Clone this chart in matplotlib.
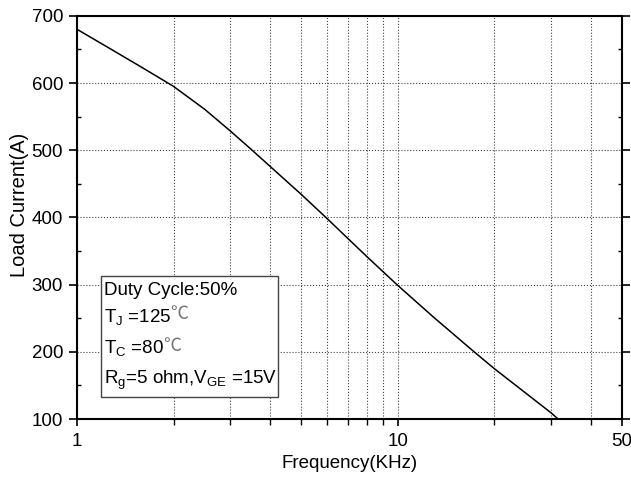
import matplotlib.pyplot as plt
from matplotlib.patches import Rectangle
from matplotlib.ticker import FixedLocator, NullFormatter

plt.rcParams['font.family'] = ['Liberation Sans', 'DejaVu Sans']
plt.rcParams['mathtext.fontset'] = 'custom'
plt.rcParams['mathtext.rm'] = 'Liberation Sans'
plt.rcParams['mathtext.default'] = 'regular'

# curve
freq_khz = [1, 1.27, 1.61, 2, 2.5, 3, 3.46, 5.01, 5.97, 8, 9.94, 12.9, 17.3, 20, 30.1, 31.6]
load_current = [680, 651, 622, 595, 561, 529, 503, 434, 400, 342, 300, 252, 200, 175, 109, 100]

x_major = [1, 10, 50]
x_major_labels = ["1", "10", "50"]
x_minor = [2, 3, 4, 5, 6, 7, 8, 9, 20, 30, 40]
y_major = [100, 200, 300, 400, 500, 600, 700]
y_minor = [150, 250, 350, 450, 550, 650]

box_lines = ["Duty Cycle:50%", "T$_J$ =125", "T$_C$ =80", "R$_g$=5 ohm,V$_{GE}$ =15V"]
box_units = ["", "℃", "℃", ""]

fig = plt.figure(figsize=(6.31, 4.80), dpi=100)
ax = fig.add_axes([0.122, 0.127, 0.8637, 0.840])

ax.plot(freq_khz, load_current, color="black", lw=1.1)

ax.set_xscale("log")
ax.set_xlim(1, 50)
ax.set_ylim(100, 700)
ax.xaxis.set_major_locator(FixedLocator(x_major))
ax.xaxis.set_minor_locator(FixedLocator(x_minor))
ax.set_xticklabels(x_major_labels)
ax.xaxis.set_minor_formatter(NullFormatter())
ax.set_yticks(y_major)
ax.yaxis.set_minor_locator(FixedLocator(y_minor))

ax.grid(True, which="major", axis="y", color="#444444", ls=":", lw=0.8)
ax.grid(True, which="both", axis="x", color="#444444", ls=":", lw=0.8)

for s in ax.spines.values():
    s.set_linewidth(1.5)

ax.tick_params(axis="x", which="major", direction="out", length=5, width=1.2, labelsize=13.5, pad=5)
ax.tick_params(axis="x", which="minor", direction="out", length=4, width=1.0)
ax.tick_params(axis="y", which="major", direction="out", length=6, width=1.2, labelsize=13.5, pad=4,
               right=True)
ax.tick_params(axis="y", which="minor", direction="in", length=3, width=1.0, right=True)

ax.set_xlabel("Frequency(KHz)", fontsize=13.5, labelpad=4)
ax.set_ylabel("Load Current(A)", fontsize=14.5)
ax.yaxis.set_label_coords(-0.088, 0.53)

ax.add_patch(Rectangle((0.0435, 0.055), 0.3255, 0.30, transform=ax.transAxes,
                       facecolor="white", edgecolor="#444444", lw=1.0, zorder=5))
line_y = [0.318, 0.254, 0.176, 0.096]
for txt, unit, yy in zip(box_lines, box_units, line_y):
    t = ax.text(0.05, yy, txt, transform=ax.transAxes, fontsize=13.5, va="center", ha="left", zorder=6)
    if unit:
        ax.annotate(unit, xy=(1, 0.62), xycoords=t, xytext=(-1, 0), textcoords="offset points",
                    va="center", ha="left", fontsize=13, color="#777777",
                    family=["Noto Sans CJK SC", "DejaVu Sans"], zorder=6)

fig.savefig("out.png", dpi=100)
